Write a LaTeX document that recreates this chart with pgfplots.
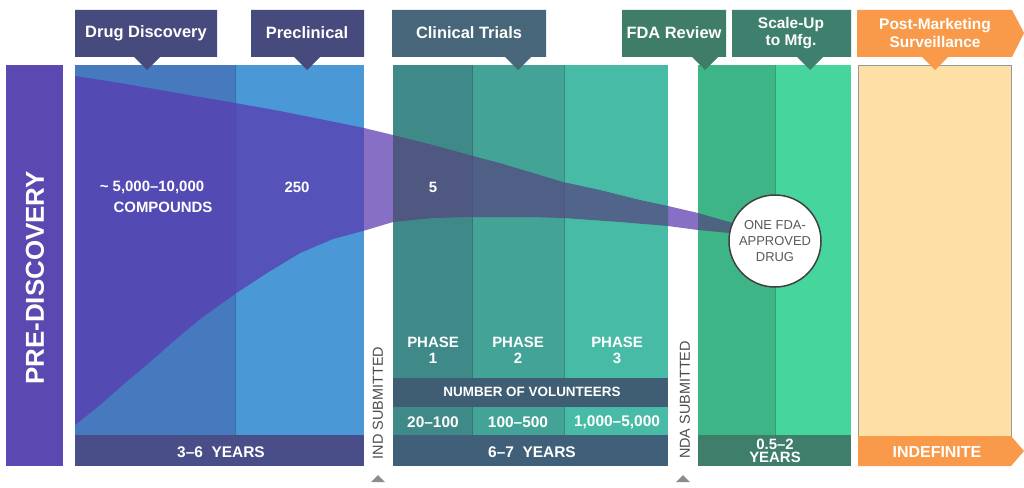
\documentclass[border=0pt]{standalone}
\usepackage{pgfplots}
\pgfplotsset{compat=1.18}
\usepackage{fontspec}
\setmainfont{Liberation Sans}
\definecolor{predisc}{HTML}{5B49B1}
\definecolor{ddpanel}{HTML}{4779BE}
\definecolor{preclin}{HTML}{4A98D6}
\definecolor{bandA}{HTML}{4A4E88}
\definecolor{hdrA}{HTML}{474A7D}
\definecolor{hdrclin}{HTML}{48667A}
\definecolor{phA}{HTML}{3F8A89}
\definecolor{phB}{HTML}{43A396}
\definecolor{phC}{HTML}{48BBA6}
\definecolor{volband}{HTML}{3F5E74}
\definecolor{bandB}{HTML}{40607A}
\definecolor{fda}{HTML}{3DB586}
\definecolor{scale}{HTML}{46D59D}
\definecolor{bandC}{HTML}{3E7E6A}
\definecolor{hdrfda}{HTML}{3F7D69}
\definecolor{hdrscale}{HTML}{3E7F6E}
\definecolor{post}{HTML}{FEDFA5}
\definecolor{orng}{HTML}{F89A49}
\definecolor{funnel}{HTML}{5A38B0}
\definecolor{funnelB}{HTML}{54457F}
\newcommand{\rect}[5]{\addplot[fill=#5, draw=none, forget plot] coordinates {(#1,#2)(#3,#2)(#3,#4)(#1,#4)} -- cycle;}
\newcommand{\sepline}[3]{\addplot[draw=black, draw opacity=0.25, line width=0.8bp, forget plot] coordinates {(#1,#2)(#1,#3)};}
\begin{document}
\begin{tikzpicture}
\begin{axis}[
  scale only axis, width=1024bp, height=487bp,
  xmin=0, xmax=1024, ymin=0, ymax=487, y dir=reverse,
  hide axis, clip=false,
  every node/.style={text depth=0pt, inner sep=1pt},
]
% background
\rect{0}{0}{1024}{487}{white}
% pre-discovery bar
\rect{6}{65}{63}{466}{predisc}
% drug discovery + preclinical
\rect{75}{65}{235}{435}{ddpanel}
\rect{235}{65}{364}{435}{preclin}
\rect{75}{435}{364}{466}{bandA}
% clinical
\rect{393}{65}{472}{407}{phA}
\rect{472}{65}{564}{407}{phB}
\rect{564}{65}{668}{407}{phC}
\rect{393}{407}{472}{435}{phA}
\rect{472}{407}{564}{435}{phB}
\rect{564}{407}{668}{435}{phC}
\rect{393}{378}{668}{407}{volband}
\rect{393}{435}{668}{466}{bandB}
% FDA review + scale-up
\rect{698}{65}{775}{435}{fda}
\rect{775}{65}{851}{435}{scale}
\rect{698}{435}{851}{466}{bandC}
% post-marketing
\addplot[fill=post, draw=black!40, line width=0.8bp, forget plot] coordinates {(858,65)(1011,65)(1011,436)(858,436)} -- cycle;
\addplot[fill=orng, draw=none, forget plot] coordinates {(858,436)(1011,436)(1024,451)(1011,466)(858,466)} -- cycle;
% separators
\sepline{235}{65}{435}
\sepline{472}{65}{378}
\sepline{564}{65}{378}
\sepline{472}{407}{435}
\sepline{564}{407}{435}
\sepline{775}{65}{435}
% funnel (four pieces)
\addplot[fill=funnel, fill opacity=0.72, draw=none, forget plot] coordinates {
(75,76)(120,83)(160,90)(200,97)(235,103)(280,111)(320,119)(364,128)(393,135)
(393,222)(363,231)(333,239)(300,253)(267,273)(235,294)(200,319)(175,340)(150,362)(125,383)(100,405)(75,425)} -- cycle;
\addplot[fill=funnelB, fill opacity=0.72, draw=none, forget plot] coordinates {
(393,135)(433,145)(473,156)(503,164)(533,173)(563,182)(600,190)(640,200)(668,206)
(668,226)(620,222)(563,218)(533,217)(473,217)(433,218)(393,222)} -- cycle;
\addplot[fill=funnel, fill opacity=0.72, draw=none, forget plot] coordinates {(668,206)(698,213)(698,230)(668,226)} -- cycle;
\addplot[fill=funnelB, fill opacity=0.72, draw=none, forget plot] coordinates {(698,213)(740,225)(740,234)(698,230)} -- cycle;
% headers
\addplot[fill=hdrA, draw=none, forget plot] coordinates {(75,10)(217,10)(217,57)(160,57)(147,70)(134,57)(75,57)} -- cycle;
\addplot[fill=hdrA, draw=none, forget plot] coordinates {(251,10)(364,10)(364,57)(320,57)(307,70)(294,57)(251,57)} -- cycle;
\addplot[fill=hdrclin, draw=none, forget plot] coordinates {(392,10)(546,10)(546,57)(531,57)(518,70)(505,57)(392,57)} -- cycle;
\addplot[fill=hdrfda, draw=none, forget plot] coordinates {(622,10)(726,10)(726,57)(718,57)(705,70)(692,57)(622,57)} -- cycle;
\addplot[fill=hdrscale, draw=none, forget plot] coordinates {(732,10)(851,10)(851,57)(823,57)(810,70)(797,57)(732,57)} -- cycle;
\addplot[fill=orng, draw=none, forget plot] coordinates {(857,10)(1012,10)(1024,33)(1012,57)(948,57)(935,70)(922,57)(857,57)} -- cycle;
% triangles
\addplot[fill=black!45, draw=none, forget plot] coordinates {(371,482)(378,475)(385,482)} -- cycle;
\addplot[fill=black!45, draw=none, forget plot] coordinates {(676,482)(683,475)(690,482)} -- cycle;
% header text
\begin{scope}[every node/.append style={text=white, font=\fontsize{16.5}{18}\selectfont\bfseries}]
\node at (axis cs:146,33) {Drug Discovery};
\node at (axis cs:307,33) {Preclinical};
\node at (axis cs:469,33) {Clinical Trials};
\node at (axis cs:674,33) {FDA Review};
\end{scope}
\begin{scope}[every node/.append style={text=white, align=center, font=\fontsize{15.5}{17.5}\selectfont\bfseries}]
\node at (axis cs:791,33) {Scale-Up\\to Mfg.};
\node at (axis cs:935,33) {Post-Marketing\\Surveillance};
\end{scope}
% pre-discovery
\node[rotate=90, text=white, font=\fontsize{26}{28}\selectfont\bfseries] at (axis cs:35,278) {PRE-DISCOVERY};
% panel text
\begin{scope}[every node/.append style={text=white, font=\fontsize{15}{17}\selectfont\bfseries}]
\node at (axis cs:152,187) {\textasciitilde\ 5,000--10,000};
\node at (axis cs:163,207) {COMPOUNDS};
\node at (axis cs:297,187) {250};
\node at (axis cs:433,187) {5};
\node[align=center, font=\fontsize{15}{16}\selectfont\bfseries] at (axis cs:433,350) {PHASE\\1};
\node[align=center, font=\fontsize{15}{16}\selectfont\bfseries] at (axis cs:518,350) {PHASE\\2};
\node[align=center, font=\fontsize{15}{16}\selectfont\bfseries] at (axis cs:617,350) {PHASE\\3};
\node[font=\fontsize{13.5}{15}\selectfont\bfseries] at (axis cs:532,392) {NUMBER OF VOLUNTEERS};
\node[font=\fontsize{15.5}{17}\selectfont\bfseries] at (axis cs:433,422) {20--100};
\node[font=\fontsize{15.5}{17}\selectfont\bfseries] at (axis cs:518,422) {100--500};
\node[font=\fontsize{15.5}{17}\selectfont\bfseries] at (axis cs:617,422) {1,000--5,000};
\node[font=\fontsize{15.5}{17}\selectfont\bfseries] at (axis cs:221,452) {3--6\ \ YEARS};
\node[font=\fontsize{15.5}{17}\selectfont\bfseries] at (axis cs:532,452) {6--7\ \ YEARS};
\node[align=center, font=\fontsize{15}{13}\selectfont\bfseries] at (axis cs:775,451) {0.5--2\\YEARS};
\node[font=\fontsize{16}{17}\selectfont\bfseries] at (axis cs:937,452) {INDEFINITE};
\end{scope}
% submitted labels
\node[rotate=90, text=black!70, font=\fontsize{14.5}{16}\selectfont] at (axis cs:378,403) {IND SUBMITTED};
\node[rotate=90, text=black!70, font=\fontsize{14.5}{16}\selectfont] at (axis cs:685,400) {NDA SUBMITTED};
% circle
\node[circle, draw=black!75, line width=1.5bp, fill=white, minimum size=92bp, inner sep=0pt, align=center, text=black!65, font=\fontsize{13}{16}\selectfont] at (axis cs:775,241) {ONE FDA-\\APPROVED\\DRUG};
\end{axis}
\end{tikzpicture}
\end{document}
